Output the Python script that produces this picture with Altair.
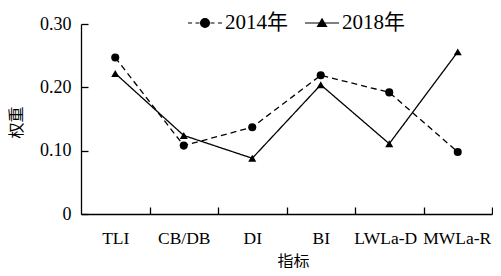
import altair as alt
import pandas as pd

categories = ["TLI", "CB/DB", "DI", "BI", "LWLa-D", "MWLa-R"]
years = ["2014年", "2018年"]
w2014 = [0.247, 0.108, 0.137, 0.219, 0.192, 0.098]
w2018 = [0.222, 0.124, 0.088, 0.204, 0.111, 0.256]
y_ticks = [0, 0.1, 0.2, 0.3]

rows = []
for c, a, b in zip(categories, w2014, w2018):
    rows.append({"指标": c, "年份": years[0], "权重": a})
    rows.append({"指标": c, "年份": years[1], "权重": b})
df = pd.DataFrame(rows)

FONT = "Liberation Serif, Noto Sans CJK SC"
W, H = 411, 190

xscale = alt.Scale(type="point", domain=categories, padding=0.5)
yscale = alt.Scale(domain=[0, 0.3], nice=False, zero=True)
dash_scale = alt.Scale(domain=years, range=[[6, 4], [1, 0]])

# legend glyphs: dashed line + circle, solid line + triangle
circle_path = ("M-1,0L-0.76,0M-0.56,0L-0.32,0M0.32,0L0.56,0M0.76,0L1,0"
               "M0.26,0A0.26,0.26,0,1,1,-0.26,0A0.26,0.26,0,1,1,0.26,0Z")
tri_path = "M-1,0L1,0M0,-0.24L0.26,0.2L-0.26,0.2Z"

label_shift = {"condition": [{"test": "datum.value == 'LWLa-D'", "value": -4},
                             {"test": "datum.value == 'MWLa-R'", "value": -1}],
               "value": 0}

base = alt.Chart(df)

line = base.mark_line(color="black", strokeWidth=1.3).encode(
    x=alt.X("指标:N", scale=xscale, sort=categories,
            axis=alt.Axis(title="指标", ticks=False, domain=True, domainColor="black",
                          domainWidth=1.3, labelAngle=0, labelFont=FONT, labelFontSize=17.5,
                          labelColor="black", labelPadding=15, labelOffset=label_shift,
                          titleFont=FONT,
                          titleFontSize=16, titleFontWeight="normal", titleColor="black",
                          titleX=212, titleY=52, titleBaseline="alphabetic")),
    y=alt.Y("权重:Q", scale=yscale,
            axis=alt.Axis(title="权重", values=y_ticks, ticks=False, domain=True,
                          domainColor="black", domainWidth=1.3,
                          labelExpr="datum.value == 0 ? '0' : format(datum.value, '.2f')",
                          labelFont=FONT, labelFontSize=18, labelColor="black",
                          labelPadding=10, titleFont=FONT, titleFontSize=16,
                          titleFontWeight="normal", titleColor="black",
                          titleX=-65, titleY=98, titleAlign="center",
                          titleBaseline="middle")),
    strokeDash=alt.StrokeDash("年份:N", scale=dash_scale, legend=None),
)

pts = base.mark_point(filled=True, color="black", size=65, opacity=1).encode(
    x=alt.X("指标:N", scale=xscale, sort=categories, axis=None),
    y=alt.Y("权重:Q", scale=yscale, axis=None),
    shape=alt.Shape("年份:N", scale=alt.Scale(domain=years, range=["circle", "triangle-up"]),
                    legend=None),
)

dummy = base.mark_point(filled=False, fill="black", stroke="black", strokeWidth=1.2,
                        opacity=0).encode(
    x=alt.X("指标:N", scale=xscale, sort=categories,
            axis=alt.Axis(orient="top", offset=-H, labels=False, domain=False, ticks=True,
                          tickSize=7, tickOffset=W / 12, tickColor="black", tickWidth=1.3,
                          title=None)),
    y=alt.Y("权重:Q", scale=yscale,
            axis=alt.Axis(orient="right", offset=-W, labels=False, domain=False,
                          ticks=True, tickSize=7, values=y_ticks, tickColor="black",
                          tickWidth=1.3, title=None)),
    shape=alt.Shape("年份:N", scale=alt.Scale(domain=years, range=[circle_path, tri_path]),
                    legend=alt.Legend(title=None, orient="none", legendX=106, legendY=-19,
                                      direction="horizontal", columns=2, symbolSize=1156,
                                      labelFont=FONT, labelFontSize=21, labelColor="black",
                                      symbolStrokeWidth=1.2, columnPadding=14,
                                      labelOffset=2, padding=0)),
)

chart = alt.layer(line, pts, dummy).resolve_axis(
    x="independent", y="independent"
).resolve_scale(shape="independent").properties(
    width=W, height=H,
    autosize=alt.AutoSizeParams(type="none"),
    padding={"left": 73, "top": 16, "right": 1, "bottom": 54},
).configure_view(stroke=None).configure_axis(grid=False)

chart.save("out.html", embed_options={"renderer": "svg", "actions": False})
